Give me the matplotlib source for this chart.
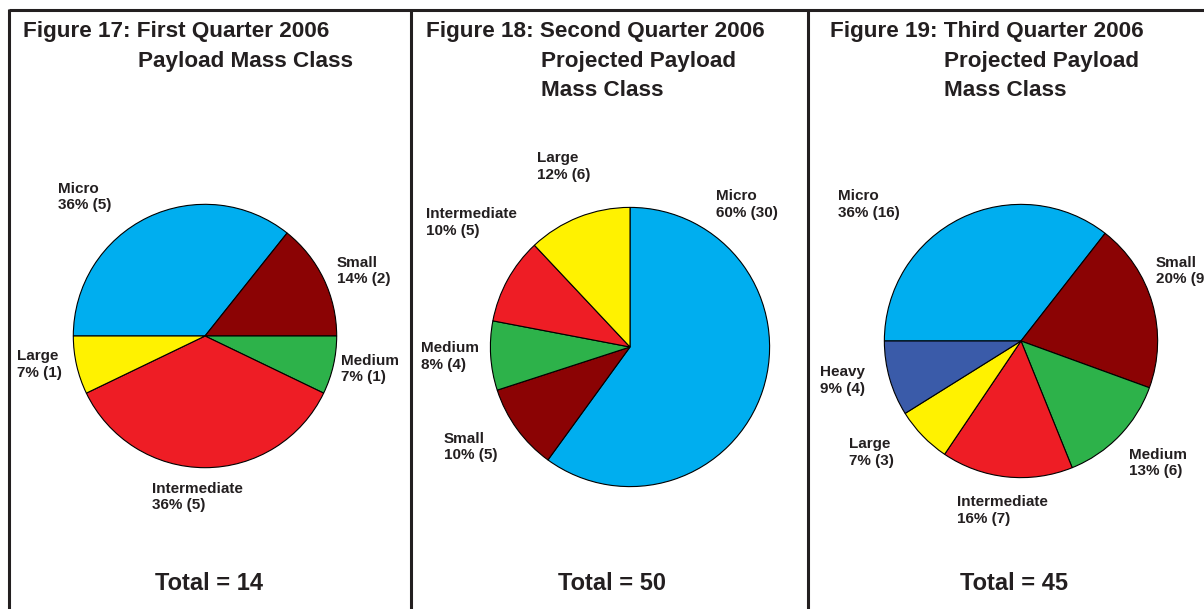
import matplotlib
matplotlib.use("Agg")
import matplotlib.pyplot as plt

plt.rcParams['font.family'] = ['Liberation Sans', 'DejaVu Sans']

# ---- data ----
titles = [
    ["Figure 17:", "First Quarter 2006", "Payload Mass Class"],
    ["Figure 18:", "Second Quarter 2006", "Projected Payload", "Mass Class"],
    ["Figure 19:", "Third Quarter 2006", "Projected Payload", "Mass Class"],
]
cats1 = ["Micro", "Small", "Medium", "Intermediate", "Large"]
vals1 = [5, 2, 1, 5, 1]
cats2 = ["Micro", "Small", "Medium", "Intermediate", "Large"]
vals2 = [30, 5, 4, 5, 6]
cats3 = ["Micro", "Small", "Medium", "Intermediate", "Large", "Heavy"]
vals3 = [16, 9, 6, 7, 3, 4]
totals = [14, 50, 45]

colors = {
    "Micro": "#00AEEF",
    "Small": "#8B0304",
    "Medium": "#2DB24A",
    "Intermediate": "#EE1D25",
    "Large": "#FFF200",
    "Heavy": "#3A5BA9",
}

W, H = 1204, 609
fig = plt.figure(figsize=(W / 100, H / 100), dpi=100)
bg = fig.add_axes([0, 0, 1, 1])
bg.set_xlim(0, W)
bg.set_ylim(H, 0)
bg.axis("off")

# frame lines
lc = "#231F20"
bg.plot([9, W + 5], [10, 10], color=lc, lw=2.2, solid_capstyle="butt")
for x in [9, 411, 808]:
    bg.plot([x, x], [9, H + 5], color=lc, lw=2.2, solid_capstyle="butt")

# pies: (center x, center y, radius, startangle)
pie_geo = [(205, 336, 133, 180), (630, 347, 141, 90), (1021, 341, 138, 180)]
series = [(cats1, vals1), (cats2, vals2), (cats3, vals3)]

for (cx, cy, r, sa), (cats, vals) in zip(pie_geo, series):
    ax = fig.add_axes([(cx - r) / W, 1 - (cy + r) / H, 2 * r / W, 2 * r / H])
    ax.pie(vals, colors=[colors[c] for c in cats], startangle=sa,
           counterclock=False, radius=1,
           wedgeprops=dict(edgecolor="black", linewidth=0.8))
    ax.set_xlim(-1.01, 1.01)
    ax.set_ylim(-1.01, 1.01)
    ax.set_aspect("auto")
    ax.axis("off")

# titles
title_pos = [(23, 138), (426, 541), (830, 944)]
for (x0, x1), lines in zip(title_pos, titles):
    bg.text(x0, 32, lines[0] + " " + lines[1], fontsize=16.2, fontweight="bold",
            ha="left", va="center", color="#231F20")
    for i, ln in enumerate(lines[2:]):
        bg.text(x1, 61 + 29 * i, ln, fontsize=16.2, fontweight="bold",
                ha="left", va="center", color="#231F20")

# slice labels (x, y of first line)
label_pos = [
    {"Micro": (58, 189), "Small": (337, 263),
     "Medium": (341, 361), "Intermediate": (152, 489),
     "Large": (17, 356)},
    {"Micro": (716, 196), "Small": (444, 439),
     "Medium": (421, 348), "Intermediate": (426, 214),
     "Large": (537, 158)},
    {"Micro": (838, 196), "Small": (1156, 263),
     "Medium": (1129, 455), "Intermediate": (957, 502),
     "Large": (849, 444), "Heavy": (820, 372)},
]
for (cats, vals), lp in zip(series, label_pos):
    tot = sum(vals)
    for c, v in zip(cats, vals):
        x, y = lp[c]
        pct = round(100 * v / tot)
        bg.text(x, y, c, fontsize=11, fontweight="bold",
                ha="left", va="center", color="#231F20")
        bg.text(x, y + 16.5, f"{pct}% ({v})", fontsize=11, fontweight="bold",
                ha="left", va="center", color="#231F20")

# totals
for xc, t in zip([209, 612, 1014], totals):
    bg.text(xc, 583, f"Total = {t}", fontsize=17, fontweight="bold",
            ha="center", va="center", color="#231F20")

fig.savefig("out.png", dpi=100)
